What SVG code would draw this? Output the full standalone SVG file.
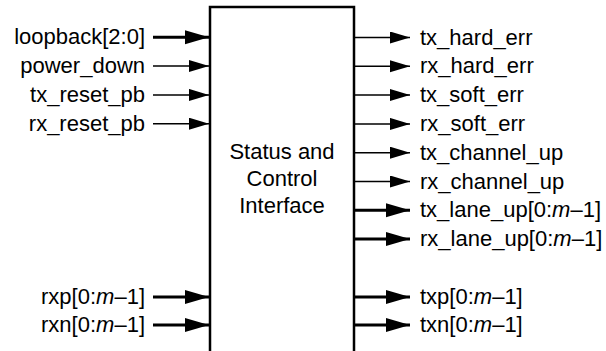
<svg xmlns="http://www.w3.org/2000/svg" width="606" height="351" viewBox="0 0 606 351">
<style>
text{font-family:"Liberation Sans",Arial,sans-serif;font-size:22px;fill:#000}
.l{text-anchor:end}
.c{text-anchor:middle}
.thin{stroke:#000;stroke-width:1.5;fill:none}
.thick{stroke:#000;stroke-width:3;fill:none}
</style>
<defs>
<marker id="ah" markerUnits="userSpaceOnUse" markerWidth="26" markerHeight="16" refX="24" refY="7" orient="auto" viewBox="0 0 26 16"><path d="M0,0 L24,7 L0,14 Z" fill="#000"/></marker>
<marker id="ahs" markerUnits="userSpaceOnUse" markerWidth="22" markerHeight="14" refX="20" refY="6" orient="auto" viewBox="0 0 22 14"><path d="M0,0 L20,6 L0,12 Z" fill="#000"/></marker>
</defs>
<g id="block">
<rect x="210" y="7" width="144" height="370" fill="#fff" stroke="#000" stroke-width="2.5"/>
<text class="c" x="282" y="159">Status and</text>
<text class="c" x="282" y="186">Control</text>
<text class="c" x="282" y="213">Interface</text>
</g>
<g id="connectors">
<line class="thick" x1="153" y1="37.3" x2="209" y2="37.3" marker-end="url(#ah)"/>
<line class="thin" x1="153" y1="66.1" x2="209" y2="66.1" marker-end="url(#ahs)"/>
<line class="thin" x1="153" y1="94.9" x2="209" y2="94.9" marker-end="url(#ahs)"/>
<line class="thin" x1="153" y1="123.7" x2="209" y2="123.7" marker-end="url(#ahs)"/>
<line class="thick" x1="153" y1="297" x2="209" y2="297" marker-end="url(#ah)"/>
<line class="thick" x1="153" y1="325" x2="209" y2="325" marker-end="url(#ah)"/>
<line class="thin" x1="355" y1="37.5" x2="410" y2="37.5" marker-end="url(#ahs)"/>
<line class="thin" x1="355" y1="66.3" x2="410" y2="66.3" marker-end="url(#ahs)"/>
<line class="thin" x1="355" y1="95.1" x2="410" y2="95.1" marker-end="url(#ahs)"/>
<line class="thin" x1="355" y1="123.9" x2="410" y2="123.9" marker-end="url(#ahs)"/>
<line class="thin" x1="355" y1="152.7" x2="410" y2="152.7" marker-end="url(#ahs)"/>
<line class="thin" x1="355" y1="181.5" x2="410" y2="181.5" marker-end="url(#ahs)"/>
<line class="thick" x1="355" y1="210.3" x2="410" y2="210.3" marker-end="url(#ah)"/>
<line class="thick" x1="355" y1="239.1" x2="410" y2="239.1" marker-end="url(#ah)"/>
<line class="thick" x1="355" y1="297" x2="410" y2="297" marker-end="url(#ah)"/>
<line class="thick" x1="355" y1="325" x2="410" y2="325" marker-end="url(#ah)"/>
</g>
<g id="in_loopback"><text class="l" x="145" y="44.3">loopback[2:0]</text></g>
<g id="in_power_down"><text class="l" x="145" y="73.1">power_down</text></g>
<g id="in_tx_reset_pb"><text class="l" x="145" y="101.9">tx_reset_pb</text></g>
<g id="in_rx_reset_pb"><text class="l" x="145" y="130.7">rx_reset_pb</text></g>
<g id="in_rxp"><text class="l" x="145" y="304">rxp[0:<tspan font-style="italic">m</tspan>–1]</text></g>
<g id="in_rxn"><text class="l" x="145" y="332">rxn[0:<tspan font-style="italic">m</tspan>–1]</text></g>
<g id="out_tx_hard_err"><text x="420" y="44.5">tx_hard_err</text></g>
<g id="out_rx_hard_err"><text x="420" y="73.3">rx_hard_err</text></g>
<g id="out_tx_soft_err"><text x="420" y="102.1">tx_soft_err</text></g>
<g id="out_rx_soft_err"><text x="420" y="130.9">rx_soft_err</text></g>
<g id="out_tx_channel_up"><text x="420" y="159.7">tx_channel_up</text></g>
<g id="out_rx_channel_up"><text x="420" y="188.5">rx_channel_up</text></g>
<g id="out_tx_lane_up"><text x="420" y="217.3">tx_lane_up[0:<tspan font-style="italic">m</tspan>–1]</text></g>
<g id="out_rx_lane_up"><text x="420" y="246.1">rx_lane_up[0:<tspan font-style="italic">m</tspan>–1]</text></g>
<g id="out_txp"><text x="420" y="304">txp[0:<tspan font-style="italic">m</tspan>–1]</text></g>
<g id="out_txn"><text x="420" y="332">txn[0:<tspan font-style="italic">m</tspan>–1]</text></g>
</svg>
